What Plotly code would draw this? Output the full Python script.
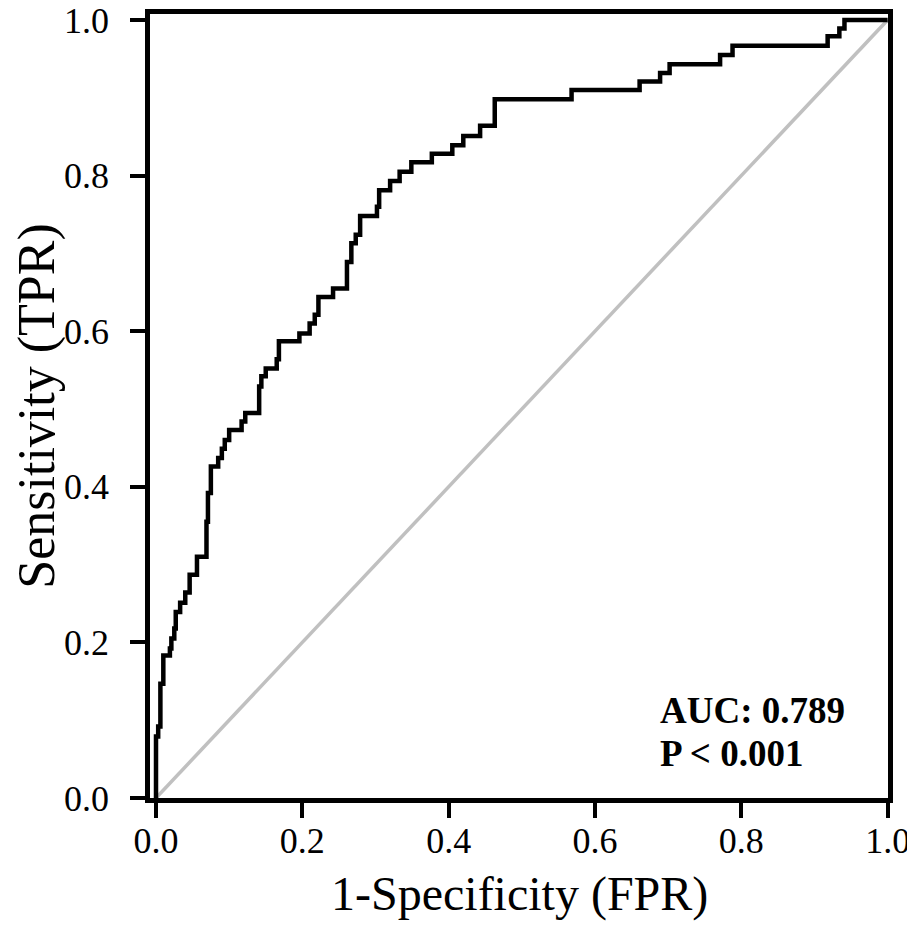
import plotly.graph_objects as go

# ROC curve corners (each point is the top of a vertical step)
fpr = [0.000, 0.000, 0.003, 0.006, 0.010, 0.019, 0.021, 0.025, 0.027, 0.033,
       0.040, 0.046, 0.056, 0.069, 0.071, 0.075, 0.085, 0.090, 0.094, 0.100,
       0.117, 0.122, 0.141, 0.144, 0.150, 0.165, 0.168, 0.196, 0.210, 0.217,
       0.222, 0.242, 0.261, 0.267, 0.273, 0.279, 0.302, 0.305, 0.320, 0.333,
       0.349, 0.377, 0.405, 0.420, 0.443, 0.463, 0.568, 0.661, 0.689, 0.702,
       0.771, 0.788, 0.918, 0.934, 0.941, 1.000]
tpr = [0.000, 0.079, 0.092, 0.147, 0.183, 0.192, 0.205, 0.218, 0.239, 0.251,
       0.264, 0.287, 0.310, 0.355, 0.392, 0.426, 0.437, 0.449, 0.460, 0.473,
       0.484, 0.495, 0.529, 0.542, 0.552, 0.564, 0.587, 0.597, 0.610, 0.621,
       0.644, 0.655, 0.689, 0.713, 0.724, 0.748, 0.760, 0.781, 0.793, 0.805,
       0.817, 0.828, 0.839, 0.851, 0.864, 0.898, 0.910, 0.921, 0.932, 0.943,
       0.955, 0.967, 0.979, 0.989, 1.000, 1.000]

ref_line = [0, 1]
tick_vals = [0.0, 0.2, 0.4, 0.6, 0.8, 1.0]
tick_text = ["0.0", "0.2", "0.4", "0.6", "0.8", "1.0"]
auc_label = "AUC: 0.789"
p_label = "P < 0.001"
x_title = "1-Specificity (FPR)"
y_title = "Sensitivity (TPR)"

serif = "Liberation Serif, Times New Roman, serif"

fig = go.Figure()
fig.add_trace(go.Scatter(
    x=ref_line, y=ref_line, mode="lines",
    line=dict(color="#c0c0c0", width=3.5),
    hoverinfo="skip", showlegend=False,
))
fig.add_trace(go.Scatter(
    x=fpr, y=tpr, mode="lines",
    line=dict(color="black", width=4.5, shape="hv"),
    showlegend=False,
))

# two separate lines so the spacing can match
for label, ypos in [(auc_label, 0.142), (p_label, 0.086)]:
    fig.add_annotation(
        x=0.686, y=ypos, xref="x", yref="y",
        text="<b>" + label + "</b>",
        showarrow=False, xanchor="left", yanchor="top", align="left",
        font=dict(family=serif, size=37, color="black"),
    )

# x title as an annotation, the axis title would not sit low enough
fig.add_annotation(
    x=0.5, y=-0.159, xref="paper", yref="paper",
    text=x_title, showarrow=False, xanchor="center", yanchor="bottom",
    font=dict(family=serif, size=48, color="black"),
)

axis_common = dict(
    showgrid=False, zeroline=False, automargin=False,
    showline=True, linecolor="black", linewidth=4.5, mirror=True,
    ticks="outside", ticklen=15, tickwidth=4, tickcolor="black",
    tickvals=tick_vals, ticktext=tick_text, ticklabeloverflow="allow",
    tickfont=dict(family=serif, size=36, color="black"),
)

# the page puts the figure 8px in from the window corner
fig.update_layout(
    width=907, height=920,
    margin=dict(l=142, r=27, t=6, b=130),
    paper_bgcolor="white", plot_bgcolor="white",
    xaxis=dict(
        range=[-0.0082, 1.0005],
        ticklabelstandoff=-8,
        **axis_common,
    ),
    yaxis=dict(
        range=[0.0, 1.0077],
        title=dict(text=y_title, standoff=8,
                   font=dict(family=serif, size=52, color="black")),
        ticklabelstandoff=14,
        **axis_common,
    ),
)

fig.write_html("out.html")
